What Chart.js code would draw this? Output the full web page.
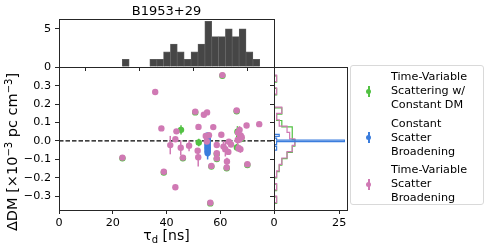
<!DOCTYPE html>
<html>
<head>
<meta charset="utf-8">
<script src="https://cdn.jsdelivr.net/npm/chart.js@4.4.1/dist/chart.umd.min.js"></script>
<style>
  html, body { margin: 0; padding: 0; background: #fff; }
  #wrap { position: relative; width: 491px; height: 249px; overflow: hidden; font-family: "DejaVu Sans", sans-serif; color: #000; }
  #wrap canvas { position: absolute; left: 0; top: 0; }
  .txt { position: absolute; white-space: nowrap; }
  #title { left: 66px; width: 201px; top: 3px; text-align: center; font-size: 13px; }
  #xlabel { left: 66px; width: 201px; top: 227px; text-align: center; font-size: 14px; }
  #xlabel sub { font-size: 10px; vertical-align: -3px; line-height: 0; }
  #ylabel { left: -88px; width: 200px; top: 143px; height: 18px; line-height: 18px; text-align: center; font-size: 14.5px; transform: rotate(-90deg); }
  #ylabel sup { font-size: 10px; vertical-align: 5px; line-height: 0; }
  #legend { position: absolute; left: 350px; top: 65px; width: 134px; height: 140px; border: 1px solid #d9d9d9; border-radius: 3px; box-sizing: border-box; }
  .item { position: absolute; left: 40px; font-size: 11.2px; line-height: 14.2px; }
  .mk { position: absolute; left: 17px; width: 1.5px; height: 11px; }
  .dot { position: absolute; left: 15.2px; width: 5px; height: 5px; border-radius: 50%; }
</style>
</head>
<body>
<div id="wrap">
  <canvas id="topHist" width="491" height="249"></canvas>
  <canvas id="main" width="491" height="249"></canvas>
  <canvas id="sideHist" width="491" height="249"></canvas>
  <div id="title" class="txt">B1953+29</div>
  <div id="xlabel" class="txt">τ<sub>d</sub> [ns]</div>
  <div id="ylabel" class="txt">ΔDM [×10<sup>−3</sup> pc cm<sup>−3</sup>]</div>
  <div id="legend"></div>
</div>
<script>
// ---- data ----
const seriesNames = [
  ["Time-Variable", "Scattering w/", "Constant DM"],
  ["Constant", "Scatter", "Broadening"],
  ["Time-Variable", "Scatter", "Broadening"]
];
const seriesColors = ["#52c143", "#3b7ddd", "#d079b4"];

const tauTicks = [0, 20, 40, 60, 80];
const dmTicks = [-0.3, -0.2, -0.1, 0, 0.1, 0.2, 0.3];
const countTicksTop = [0, 5];
const countTicksSide = [0, 25];

// top histogram of tau_d
const tauBinCenters = [24.84, 27.40, 29.95, 32.51, 35.07, 37.63, 40.18, 42.74, 45.30, 47.86,
                       50.41, 52.97, 55.53, 58.09, 60.64, 63.20, 65.76, 68.32, 70.87, 73.43];
const tauCounts = [1, 0, 0, 0, 1, 1, 2, 3, 2, 1, 2, 3, 6, 4, 4, 5, 4, 5, 2, 1];

// time-variable scatter broadening (pink)
const pinkTau = [23.6, 35.8, 38.1, 39.0, 41.4, 43.3, 43.7, 43.3, 45.3, 46.1,
                 48.4, 50.7, 51.9, 51.6, 51.8, 53.9, 55.1, 54.6, 55.8, 55.0,
                 56.3, 56.7, 57.4, 58.7, 58.7, 58.7, 60.4, 60.8, 61.2, 61.9,
                 62.5, 62.4, 64.0, 63.2, 63.0, 66.1, 66.6, 67.2, 67.6, 66.5,
                 67.3, 66.8, 67.5, 68.0, 69.8, 70.1, 74.5];
const pinkDM = [-0.091, 0.266, 0.068, -0.168, -0.023, -0.252, 0.052, 0.009, -0.037, -0.091,
                -0.026, 0.159, 0.076, -0.054, -0.089, 0.142, 0.155, 0.027, 0.031, -0.003,
                -0.336, -0.136, 0.075, -0.022, -0.067, -0.095, 0.033, 0.358, -0.031, -0.045,
                -0.112, -0.145, -0.020, -0.005, -0.060, 0.165, 0.045, 0.060, 0.030, 0.005,
                0.010, -0.040, -0.045, 0.020, 0.084, -0.127, 0.091];
const pinkErr = [0.006, 0.006, 0.006, 0.006, 0.050, 0.006, 0.010, 0.010, 0.040, 0.010,
                 0.030, 0.008, 0.008, 0.010, 0.050, 0.008, 0.008, 0.010, 0.015, 0.010,
                 0.006, 0.010, 0.008, 0.010, 0.010, 0.010, 0.010, 0.006, 0.030, 0.040,
                 0.020, 0.010, 0.010, 0.015, 0.015, 0.008, 0.020, 0.020, 0.020, 0.040,
                 0.020, 0.020, 0.020, 0.015, 0.008, 0.008, 0.008];

// time-variable scattering with constant DM (green)
const greenTau = [23.6, 39.0, 45.4, 46.1, 50.7, 52.0, 56.3, 56.7, 58.7, 58.7,
                  60.8, 62.4, 66.1, 66.4, 66.2, 67.0, 67.8, 70.1];
const greenDM = [-0.095, -0.172, 0.060, -0.095, 0.155, -0.009, -0.340, -0.140, -0.071, -0.099,
                 0.354, -0.149, 0.161, 0.050, -0.036, 0.020, 0.012, -0.131];
const greenErr = [0.005, 0.005, 0.025, 0.005, 0.005, 0.020, 0.005, 0.005, 0.005, 0.005,
                  0.005, 0.005, 0.005, 0.030, 0.020, 0.030, 0.020, 0.005];

// constant scatter broadening (blue)
const blueTau = [55.3, 55.3, 55.3, 55.3, 55.3, 55.3, 55.3, 55.3, 55.3, 55.3, 55.3, 55.3, 55.3];
const blueDM = [0.030, 0.020, 0.012, 0.004, -0.003, -0.010, -0.018, -0.026, -0.034, -0.042, -0.050, -0.058, -0.066];
const blueErr = [0.010, 0.015, 0.015, 0.015, 0.015, 0.015, 0.015, 0.015, 0.020, 0.020, 0.025, 0.030, 0.035];

// side histograms of delta DM
const pinkDmEdges = [-0.336, -0.301, -0.267, -0.232, -0.197, -0.163, -0.128, -0.093, -0.058, -0.024, 0.011,
                     0.046, 0.080, 0.115, 0.150, 0.184, 0.219, 0.254, 0.289, 0.323, 0.358];
const pinkDmCounts = [1, 0, 1, 0, 1, 2, 3, 5, 7, 8, 6, 5, 2, 1, 3, 0, 0, 1, 0, 1];
const greenDmEdges = [-0.340, -0.305, -0.271, -0.236, -0.201, -0.167, -0.132, -0.097, -0.062, -0.028, 0.007,
                      0.042, 0.076, 0.111, 0.146, 0.180, 0.215, 0.250, 0.285, 0.319, 0.354];
const greenDmCounts = [1, 0, 1, 0, 1, 2, 3, 5, 7, 8, 7, 7, 3, 1, 3, 0, 0, 1, 0, 1];
const blueDmEdges = [-0.050, -0.040, -0.030, -0.020, -0.010, -0.004, 0.004, 0.015, 0.025, 0.035];
const blueDmCounts = [1, 1, 0, 1, 1, 27, 1, 0, 2];

// ---- helpers ----
Chart.defaults.font.family = "'DejaVu Sans', sans-serif";
Chart.defaults.font.size = 11.2;
Chart.defaults.color = "#000";
Chart.defaults.animation = false;

const AX = "#262626";
const fmtDM = (v) => (v < 0 ? "\u2212" : "") + Math.abs(v).toFixed(1);

const toPoints = (xs, ys) => xs.map((x, i) => ({ x: x, y: ys[i] }));

// step outline for a horizontal histogram
const stepOutline = (edges, counts) => {
  const pts = [{ x: 0, y: edges[0] }];
  counts.forEach((c, i) => {
    pts.push({ x: c, y: edges[i] });
    pts.push({ x: c, y: edges[i + 1] });
  });
  pts.push({ x: 0, y: edges[edges.length - 1] });
  return pts;
};

const fixedTicks = (list) => (scale) => { scale.ticks = list.map((v) => ({ value: v })); };

// draw a full box around the plotting area
const frame = {
  id: "frame",
  afterDraw(chart) {
    const a = chart.chartArea, ctx = chart.ctx;
    ctx.save();
    ctx.strokeStyle = AX;
    ctx.lineWidth = 1;
    ctx.strokeRect(Math.round(a.left) + 0.5, Math.round(a.top) + 0.5,
                   Math.round(a.right) - Math.round(a.left), Math.round(a.bottom) - Math.round(a.top));
    ctx.restore();
  }
};

// vertical error bars drawn under each dataset's markers
const errorBars = {
  id: "errorBars",
  beforeDatasetDraw(chart, args) {
    const ds = chart.data.datasets[args.index];
    if (!ds.errors) return;
    const ctx = chart.ctx, xs = chart.scales.x, ys = chart.scales.y;
    ctx.save();
    ctx.strokeStyle = ds.backgroundColor;
    ctx.lineWidth = 1.5;
    ds.data.forEach((p, i) => {
      const x = xs.getPixelForValue(p.x);
      ctx.beginPath();
      ctx.moveTo(x, ys.getPixelForValue(p.y - ds.errors[i]));
      ctx.lineTo(x, ys.getPixelForValue(p.y + ds.errors[i]));
      ctx.stroke();
    });
    ctx.restore();
  }
};

const tickGrid = { display: true, drawOnChartArea: false, drawTicks: true, tickLength: 4, color: AX, lineWidth: 1 };

// ---- top histogram ----
new Chart(document.getElementById("topHist"), {
  type: "bar",
  data: {
    datasets: [{
      data: toPoints(tauBinCenters, tauCounts),
      backgroundColor: "#464646",
      borderColor: "#606060",
      borderWidth: 0.7,
      barPercentage: 1,
      categoryPercentage: 1
    }]
  },
  options: {
    responsive: false,
    layout: { padding: { left: 0, top: 19, right: 217, bottom: 0 } },
    plugins: { legend: { display: false }, tooltip: { enabled: false } },
    scales: {
      x: {
        type: "linear", min: 0, max: 80, offset: false,
        afterBuildTicks: fixedTicks(tauTicks),
        afterFit: (s) => { s.height = 182; },
        ticks: { callback: () => "" },
        grid: tickGrid, border: { display: false }
      },
      y: {
        min: 0, max: 6.3,
        afterBuildTicks: fixedTicks(countTicksTop),
        afterFit: (s) => { s.width = 59; },
        ticks: { padding: 4 },
        grid: tickGrid, border: { display: false }
      }
    }
  },
  plugins: [frame]
});

// ---- main scatter ----
new Chart(document.getElementById("main"), {
  type: "scatter",
  data: {
    datasets: [
      {
        data: [{ x: 0, y: 0 }, { x: 80, y: 0 }],
        showLine: true, borderColor: "#000", borderWidth: 1.3, borderDash: [4.5, 2],
        pointRadius: 0, order: 4
      },
      {
        data: toPoints(greenTau, greenDM), errors: greenErr,
        backgroundColor: seriesColors[0], borderWidth: 0, pointRadius: 3.2, order: 3
      },
      {
        data: toPoints(blueTau, blueDM), errors: blueErr,
        backgroundColor: seriesColors[1], borderWidth: 0, pointRadius: 3.2, order: 2
      },
      {
        data: toPoints(pinkTau, pinkDM), errors: pinkErr,
        backgroundColor: seriesColors[2], borderWidth: 0, pointRadius: 3.2, order: 1
      }
    ]
  },
  options: {
    responsive: false,
    layout: { padding: { left: 0, top: 67, right: 217, bottom: 0 } },
    plugins: { legend: { display: false }, tooltip: { enabled: false } },
    scales: {
      x: {
        type: "linear", min: 0, max: 80,
        afterBuildTicks: fixedTicks(tauTicks),
        afterFit: (s) => { s.height = 39; },
        ticks: { padding: 2, maxRotation: 0, autoSkip: false, callback: (v) => (v === 80 ? "" : String(v)) },
        grid: tickGrid, border: { display: false }
      },
      y: {
        min: -0.376, max: 0.402,
        afterBuildTicks: fixedTicks(dmTicks),
        afterFit: (s) => { s.width = 59; },
        ticks: { padding: 4, autoSkip: false, callback: fmtDM },
        grid: tickGrid, border: { display: false }
      }
    }
  },
  plugins: [errorBars, frame]
});

// ---- side histogram ----
new Chart(document.getElementById("sideHist"), {
  type: "scatter",
  data: {
    datasets: [
      { data: stepOutline(blueDmEdges, blueDmCounts), borderColor: seriesColors[1], order: 1 },
      { data: stepOutline(pinkDmEdges, pinkDmCounts), borderColor: seriesColors[2], order: 2 },
      { data: stepOutline(greenDmEdges, greenDmCounts), borderColor: seriesColors[0], order: 3 }
    ].map((d) => Object.assign(d, { showLine: true, pointRadius: 0, borderWidth: 1.2, tension: 0 }))
  },
  options: {
    responsive: false,
    layout: { padding: { left: 0, top: 67, right: 144, bottom: 0 } },
    plugins: { legend: { display: false }, tooltip: { enabled: false } },
    scales: {
      x: {
        type: "linear", min: 0, max: 28,
        afterBuildTicks: fixedTicks(countTicksSide),
        afterFit: (s) => { s.height = 39; },
        ticks: { padding: 2, maxRotation: 0, autoSkip: false },
        grid: tickGrid, border: { display: false }
      },
      y: {
        min: -0.376, max: 0.402,
        afterBuildTicks: fixedTicks(dmTicks),
        afterFit: (s) => { s.width = 274; },
        ticks: { callback: () => "" },
        grid: tickGrid, border: { display: false }
      }
    }
  },
  plugins: [frame]
});

// ---- legend ----
const legend = document.getElementById("legend");
const itemTops = [4, 50.5, 97];
seriesNames.forEach((lines, i) => {
  const top = itemTops[i];
  const mid = top + 21.3;
  legend.insertAdjacentHTML("beforeend",
    `<div class="mk" style="top:${mid - 5.5}px;background:${seriesColors[i]}"></div>` +
    `<div class="dot" style="top:${mid - 2.5}px;background:${seriesColors[i]}"></div>` +
    `<div class="item" style="top:${top}px">${lines.join("<br>")}</div>`);
});
</script>
</body>
</html>
